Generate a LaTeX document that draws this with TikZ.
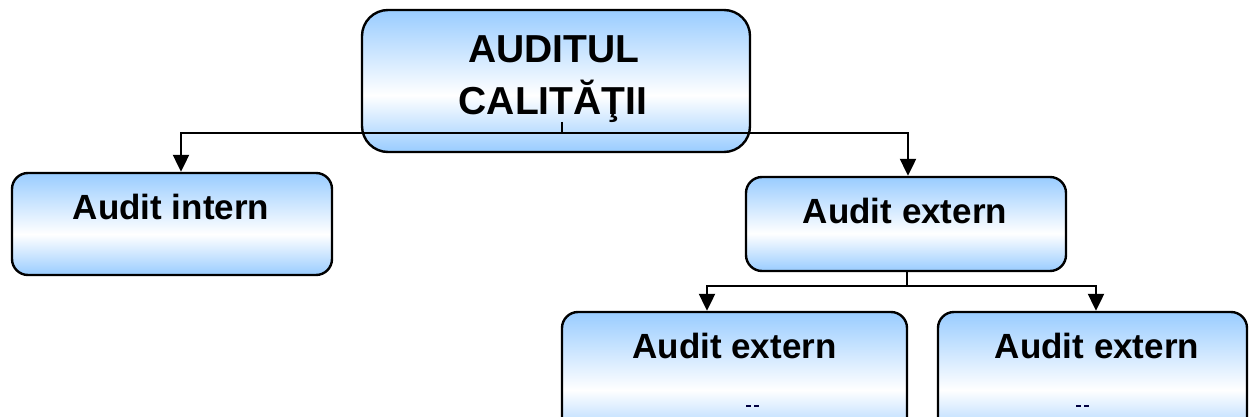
\documentclass[tikz,border=0pt]{standalone}
\usepackage{fontspec}
\setmainfont{Liberation Sans}
\usetikzlibrary{arrows.meta,calc}
\definecolor{boxblue}{RGB}{153,204,255}
% light blue at the edges, white a little below the middle
\pgfdeclareverticalshading{boxfade}{100bp}{color(0bp)=(boxblue); color(25bp)=(boxblue); color(45bp)=(white); color(75bp)=(boxblue); color(100bp)=(boxblue)}
\begin{document}
\begin{tikzpicture}[x=1pt,y=-1pt,
  box/.style={draw=black, line width=2.4pt, rounded corners=16pt, shading=boxfade, inner sep=0pt},
  lbl/.style={font=\bfseries\fontsize{35}{42}\selectfont, anchor=base, inner sep=0pt},
  conn/.style={line width=2.2pt},
  arr/.style={conn, -{Triangle[length=17pt,width=16pt]}},
  tick/.style={fill=black!75!blue}]
\useasboundingbox (0,0) rectangle (1249,417);
\clip (0,0) rectangle (1249,417);

% boxes
\node[box, rounded corners=26pt, minimum width=388pt, minimum height=142pt] (top) at (556,81) {};
\node[box, minimum width=320pt, minimum height=102pt] (intern) at (172,224) {};
\node[box, minimum width=320pt, minimum height=94pt] (ext) at (906,224) {};
\node[box, minimum width=345pt, minimum height=130pt] (extA) at (734.5,377) {};
\node[box, minimum width=309pt, minimum height=130pt] (extB) at (1092.5,377) {};

% labels
\node[lbl, font=\bfseries\fontsize{39}{46}\selectfont] (t1) at (554,63) {AUDITUL};
\node[lbl, font=\bfseries\fontsize{39}{46}\selectfont] (t2) at (553,115) {CALITĂŢII};
\node[lbl] (l1) at (171,219) {Audit intern};
\node[lbl] (l2) at (905,223) {Audit extern};
\node[lbl] (l3) at (734.5,358) {Audit extern};
\node[lbl] (l4) at (1097,358) {Audit extern};

% remnants of a second line, cut at the lower edge
\fill[tick] (746,405) rectangle (751,407);
\fill[tick] (754,405) rectangle (759,407);
\fill[tick] (1076,405) rectangle (1081,407);
\fill[tick] (1084,405) rectangle (1089,407);

% connectors
\coordinate (s0) at (562,122);
\coordinate (j0) at (562,133);
\coordinate (j1) at (907,286);
\draw[conn] (s0) -- (j0);
\draw[arr] (j0) -| ($(intern.north)+(9,0)$);
\draw[arr] (j0) -| ($(ext.north)+(2,0)$);
\draw[conn] (ext.south -| j1) -- (j1);
\draw[arr] (j1) -| ($(extA.north)+(-27.5,0)$);
\draw[arr] (j1) -| ($(extB.north)+(3.5,0)$);
\end{tikzpicture}
\end{document}
